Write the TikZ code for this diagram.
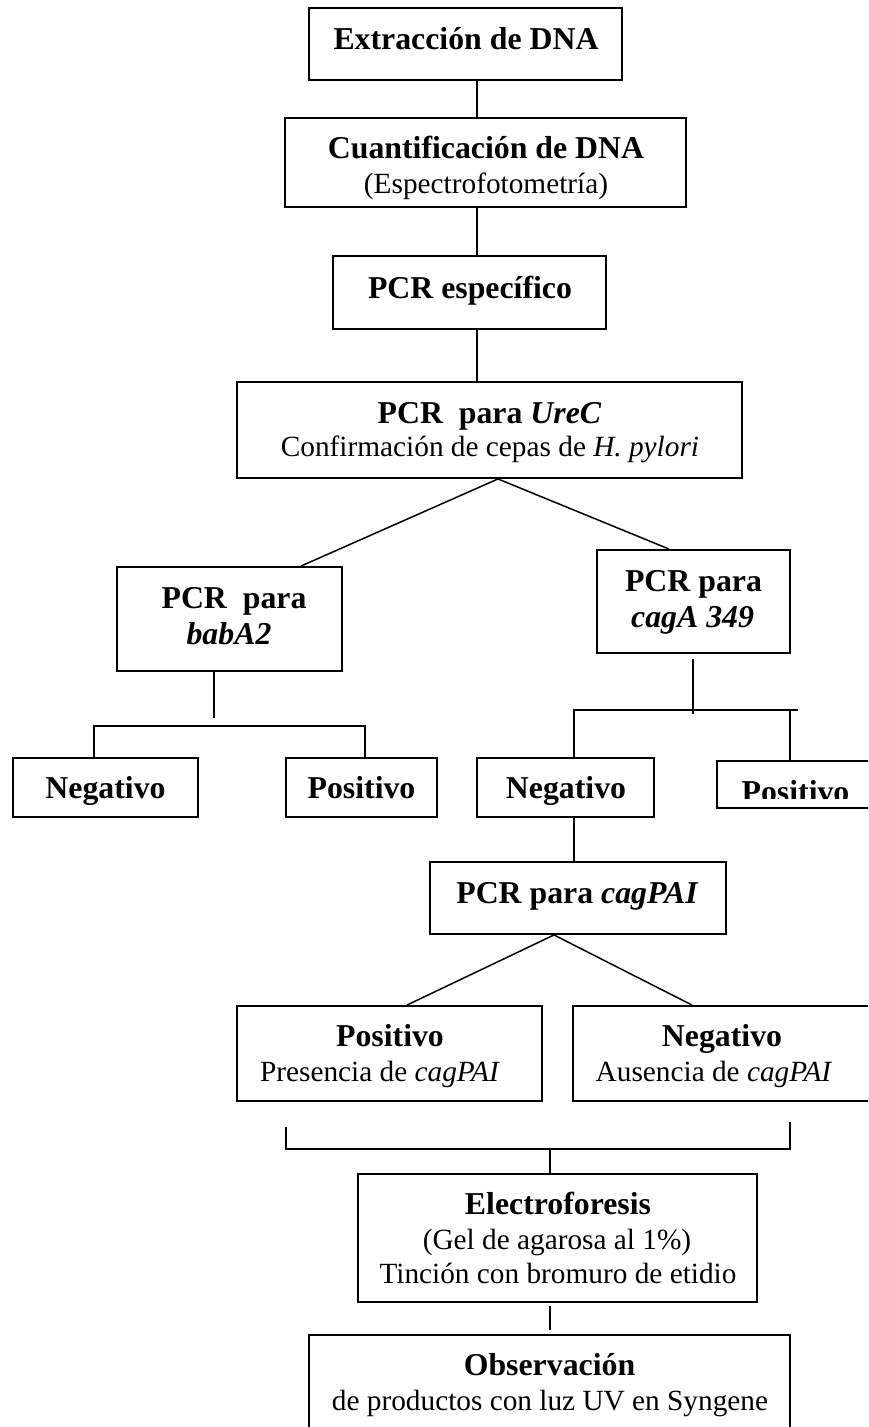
\documentclass[tikz,border=0pt]{standalone}
\usepackage{fontspec}
\setmainfont{Liberation Serif}
\begin{document}
\begin{tikzpicture}[x=1pt,y=-1pt,
  box/.style={draw=black,line width=1.9pt,rectangle,inner sep=0pt,fill=none},
  conn/.style={draw=black,line width=1.5pt},
  bt/.style={anchor=base,inner sep=0pt,font=\fontsize{31.8}{36}\selectfont\bfseries},
  rt/.style={anchor=base,inner sep=0pt,font=\fontsize{29.3}{34}\selectfont}]
\useasboundingbox (0,0) rectangle (868,1427);
\clip (0,0) rectangle (868,1427);
\fill[white] (0,0) rectangle (868,1427);
% boxes
\node[box,minimum width=313pt,minimum height=72pt] (extr) at (465.5,44) {};
\node[box,minimum width=401pt,minimum height=89pt] (cuan) at (485.5,162.5) {};
\node[box,minimum width=273pt,minimum height=73pt] (pcre) at (469.5,292.5) {};
\node[box,minimum width=505pt,minimum height=96pt] (urec) at (489.5,430) {};
\node[box,minimum width=225pt,minimum height=104pt] (baba) at (229.5,619) {};
\node[box,minimum width=193pt,minimum height=103pt] (caga) at (693.5,601.5) {};
\node[box,minimum width=185pt,minimum height=59pt] (neg1) at (105.5,787.5) {};
\node[box,minimum width=151pt,minimum height=59pt] (pos1) at (361.5,787.5) {};
\node[box,minimum width=177pt,minimum height=59pt] (neg2) at (565.5,787.5) {};
\node[box,minimum width=163pt,minimum height=47pt] (pos2) at (798.5,784.5) {};
\node[box,minimum width=296pt,minimum height=72pt] (cpai) at (578,898) {};
\node[box,minimum width=305pt,minimum height=95pt] (posc) at (389.5,1053.5) {};
\node[box,minimum width=307pt,minimum height=95pt] (negc) at (726.5,1053.5) {};
\node[box,minimum width=399pt,minimum height=128pt] (elec) at (557.5,1238) {};
\node[box,minimum width=481pt,minimum height=105pt] (obs) at (549.5,1387.5) {};
% texts
\node[bt] (extrT) at (466,49) {Extracción de DNA};
\node[bt] (cuanT) at (486,158.5) {Cuantificación de DNA};
\node[rt] (cuanS) at (486,193) {(Espectrofotometría)};
\node[bt] (pcreT) at (470,298.5) {PCR específico};
\node[bt] (urecT) at (489.5,423.5) {PCR\ \ para \textit{UreC}};
\node[rt] (urecS) at (490,456.5) {Confirmación de cepas de \textit{H. pylori}};
\node[bt] (babaT) at (234,608) {PCR\ \ para};
\node[bt] (babaS) at (229,644) {\textit{babA2}};
\node[bt] (cagaT) at (693.5,591) {PCR para};
\node[bt] (cagaS) at (692.6,627.5) {\textit{cagA 349}};
\node[bt] (neg1T) at (105.5,798.5) {Negativo};
\node[bt] (pos1T) at (361.5,798.5) {Positivo};
\node[bt] (neg2T) at (566,798.5) {Negativo};
\begin{scope}
\clip (pos2.north west) rectangle (868,798);
\node[bt] (pos2T) at (795.5,802) {Positivo};
\end{scope}
\node[bt] (cpaiT) at (577.5,903) {PCR para \textit{cagPAI}};
\node[bt] (poscT) at (390,1046) {Positivo};
\node[rt] (poscS) at (380,1081) {Presencia de \textit{cagPAI}};
\node[bt] (negcT) at (722,1046) {Negativo};
\node[rt] (negcS) at (714,1081) {Ausencia de \textit{cagPAI}};
\node[bt] (elecT) at (558,1214) {Electroforesis};
\node[rt] (elecS) at (557,1249.5) {(Gel de agarosa al 1\%)};
\node[rt] (elecU) at (558,1283) {Tinción con bromuro de etidio};
\node[bt] (obsT) at (549.5,1375.5) {Observación};
\node[rt] (obsS) at (550,1410.5) {de productos con luz UV en Syngene};
% connector coordinates
\coordinate (x1) at (477,0);
\coordinate (us) at (498,0);
\coordinate (ul) at (301,0);
\coordinate (ur) at (669,0);
\coordinate (bs) at (214,0);
\coordinate (bl) at (94,0);
\coordinate (br) at (365,0);
\coordinate (bh) at (0,726);
\coordinate (cs) at (693,0);
\coordinate (cl) at (574,0);
\coordinate (cr) at (790,0);
\coordinate (ch) at (0,710);
\coordinate (ce) at (0,714);
\coordinate (cpl) at (407,0);
\coordinate (cpr) at (692,0);
\coordinate (cps) at (554,0);
\coordinate (el) at (286,0);
\coordinate (er) at (790,0);
\coordinate (eh) at (0,1149);
\coordinate (es) at (550,0);
% connectors
\draw[conn] (x1 |- extr.south) -- (x1 |- cuan.north);
\draw[conn] (x1 |- cuan.south) -- (x1 |- pcre.north);
\draw[conn] (x1 |- pcre.south) -- (x1 |- urec.north);
\draw[conn] (us |- urec.south) -- (ul |- baba.north);
\draw[conn] (us |- urec.south) -- (ur |- caga.north);
\draw[conn] (bs |- baba.south) -- ([yshift=8pt]bs |- bh);
\draw[conn] (bl |- neg1.north) -- (bl |- bh) -- (br |- bh) -- (br |- pos1.north);
\draw[conn] ([yshift=-5pt]cs |- caga.south) -- (cs |- ce);
\draw[conn] (cl |- neg2.north) -- (cl |- ch) -- ([xshift=8pt]cr |- ch);
\draw[conn] (cr |- ch) -- (cr |- pos2.north);
\draw[conn] (cl |- neg2.south) -- (cl |- cpai.north);
\draw[conn] (cps |- cpai.south) -- (cpl |- posc.north);
\draw[conn] (cps |- cpai.south) -- (cpr |- negc.north);
\draw[conn] ([yshift=-25pt]el |- posc.south) -- (el |- eh) -- (er |- eh) -- ([yshift=-20pt]er |- negc.south);
\draw[conn] (es |- eh) -- (es |- elec.north);
\draw[conn] ([yshift=-3pt]es |- elec.south) -- ([yshift=4pt]es |- obs.north);
\end{tikzpicture}
\end{document}
